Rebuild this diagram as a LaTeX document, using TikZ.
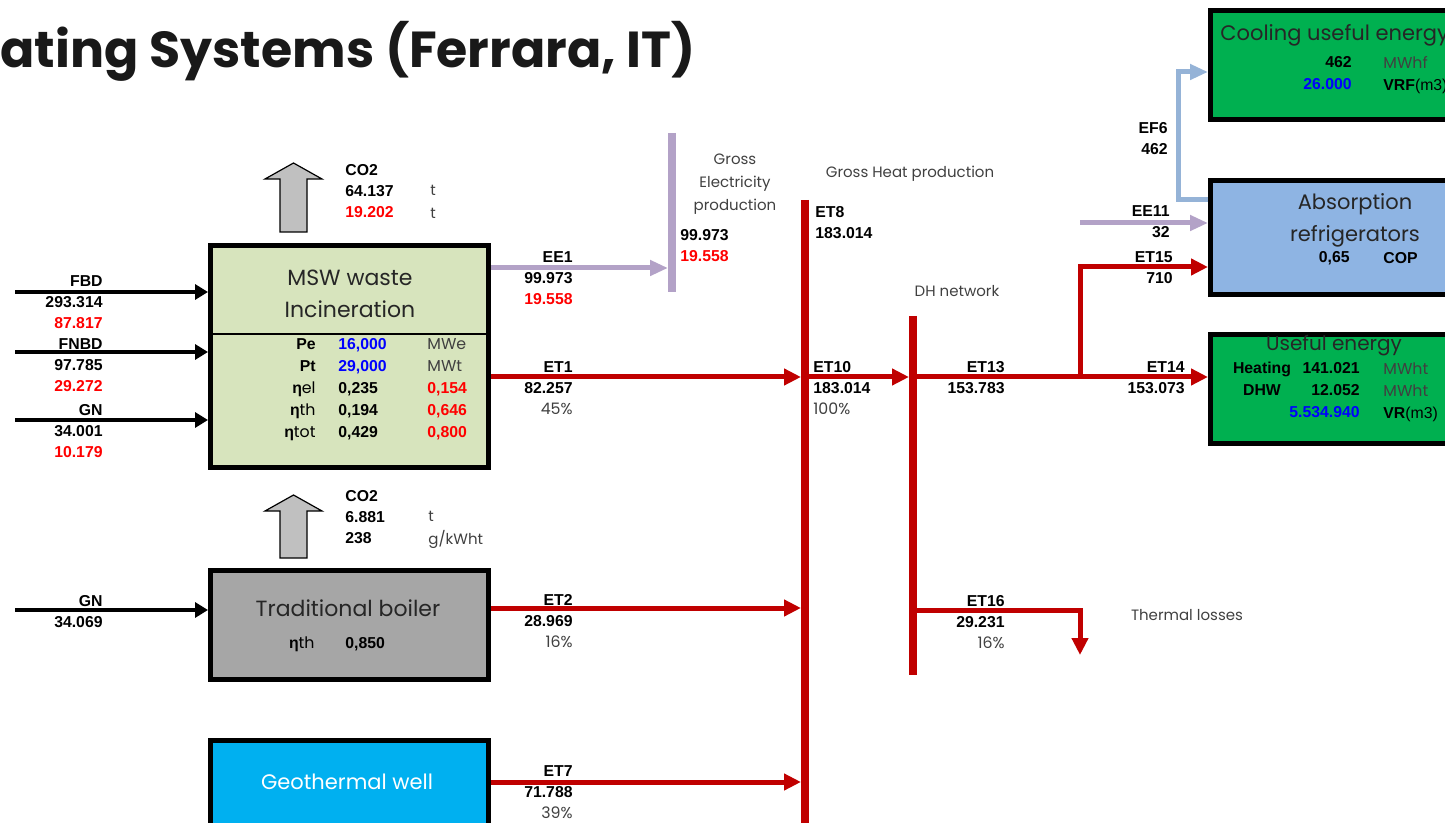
\documentclass[tikz,border=0pt]{standalone}
\usepackage{fontspec}
\setmainfont{Poppins}
\newfontfamily\numfont{Liberation Sans}
\usetikzlibrary{arrows.meta,positioning}

\definecolor{mswgreen}{HTML}{D7E4BD}
\definecolor{boilergray}{HTML}{A6A6A6}
\definecolor{geoblue}{HTML}{00B0F0}
\definecolor{usegreen}{HTML}{00B050}
\definecolor{absblue}{HTML}{8EB4E3}
\definecolor{heatred}{HTML}{C00000}
\definecolor{elecviolet}{HTML}{B3A2C7}
\definecolor{coolblue}{HTML}{95B3D7}
\definecolor{valblue}{HTML}{0000FF}
\definecolor{valred}{HTML}{FF0000}
\definecolor{co2gray}{HTML}{C0C0C0}
\definecolor{textgray}{HTML}{404040}

\tikzset{
  unitbox/.style={draw=black, line width=2.5pt, inner sep=0pt, anchor=north west},
  lbl/.style={font=\numfont\bfseries\fontsize{7.9}{10.5}\selectfont, inner sep=0pt},
  tbl/.style={font=\numfont\bfseries\fontsize{7.9}{11}\selectfont, inner sep=0pt},
  note/.style={font=\fontsize{7.5}{11.5}\selectfont, inner sep=0pt, align=center, text=textgray},
  boxtitle/.style={font=\fontsize{10.5}{16}\selectfont, inner sep=0pt, align=center, text=black!85},
  fuelflow/.style={line width=2pt, -{Triangle[length=6.5pt,width=7.5pt]}},
  heatflow/.style={heatred, line width=2.5pt, -{Triangle[length=8.5pt,width=8pt]}},
  elecflow/.style={elecviolet, line width=2.5pt, -{Triangle[length=9pt,width=7.5pt]}},
  coolflow/.style={coolblue, line width=2.5pt, -{Triangle[length=9pt,width=7.5pt]}},
  heatbar/.style={heatred, line width=4pt},
  elecbar/.style={elecviolet, line width=4pt},
  co2arrow/.style={draw=black, fill=co2gray, line width=0.6pt},
}

\begin{document}
\begin{tikzpicture}[x=0.5pt, y=-0.5pt]
  \useasboundingbox (0,0) rectangle (1445,823);
  \clip (0,0) rectangle (1445,823);

  % title, cut at the left edge
  \node (title) [anchor=base west, inner sep=0pt, font=\bfseries\fontsize{25.3}{26}\selectfont, text=black!90] at (0,68) {ating Systems (Ferrara, IT)};

  % plant boxes
  \node (msw) [unitbox, fill=mswgreen, minimum width=139pt, minimum height=111pt] at (208,243) {};
  \node (boiler) [unitbox, fill=boilergray, minimum width=139pt, minimum height=54.5pt] at (208,568) {};
  \node (geo) [unitbox, fill=geoblue, minimum width=139pt, minimum height=60pt] at (208,738) {};
  \node (cool) [unitbox, fill=usegreen, minimum width=150pt, minimum height=54.5pt] at (1208,8) {};
  \node (absorb) [unitbox, fill=absblue, minimum width=150pt, minimum height=57pt] at (1208,178) {};
  \node (useful) [unitbox, fill=usegreen, minimum width=150pt, minimum height=54.5pt] at (1208,332) {};
  \coordinate (yDiv) at (0,334);
  \draw[line width=1.2pt] (msw.west |- yDiv) -- (msw.east |- yDiv);

  % CO2 outlets
  \foreach \ytip/\ybot in {163/232, 495/558}
    \draw[co2arrow] (293.5,\ytip) -- (322,\ytip+16) -- (307,\ytip+16) -- (307,\ybot)
      -- (280,\ybot) -- (280,\ytip+16) -- (265,\ytip+16) -- cycle;

  % bus bars
  \coordinate (elecTop) at (672,133);
  \coordinate (elecBot) at (672,292);
  \coordinate (heatTop) at (805,200);
  \coordinate (heatBot) at (805,830);
  \coordinate (dhTop) at (913,316);
  \coordinate (dhBot) at (913,675);
  \coordinate (elecIn) at (668,0);
  \coordinate (heatIn) at (801,0);
  \coordinate (dhIn) at (909,0);
  \draw[elecbar] (elecTop) -- (elecBot);
  \draw[heatbar] (heatTop) -- (heatBot);
  \draw[heatbar] (dhTop) -- (dhBot);

  % fuel inputs
  \coordinate (inFBD) at (15,292);
  \coordinate (inFNBD) at (15,352);
  \coordinate (inGN) at (15,420);
  \coordinate (inGNb) at (15,610);
  \foreach \src in {inFBD, inFNBD, inGN}
    \draw[fuelflow] (\src) -- (\src -| msw.west);
  \draw[fuelflow] (inGNb) -- (inGNb -| boiler.west);

  % energy flows
  \coordinate (yEE1) at (0,268);
  \coordinate (yET1) at (0,377);
  \coordinate (yET2) at (0,608);
  \coordinate (yET7) at (0,782);
  \coordinate (yET15) at (0,267);
  \coordinate (yET16) at (0,610);
  \coordinate (yEE11) at (0,223);
  \coordinate (yEF6) at (0,200);
  \coordinate (split) at (1080,377);
  \coordinate (lossEnd) at (1080,655);
  \coordinate (ee11) at (1080,223);
  \coordinate (efBend) at (1178,72);
  \draw[elecflow] (msw.east |- yEE1) -- (elecIn |- yEE1);
  \draw[heatflow] (msw.east |- yET1) -- (heatIn |- yET1);
  \draw[heatflow] (boiler.east |- yET2) -- (heatIn |- yET2);
  \draw[heatflow] (geo.east |- yET7) -- (heatIn |- yET7);
  \draw[heatflow] (heatTop |- yET1) -- (dhIn |- yET1);
  \draw[heatflow] (dhTop |- yET1) -- (useful.west |- yET1);
  \draw[heatflow] (split) |- (absorb.west |- yET15);
  \draw[heatflow] (dhTop |- yET16) -| (lossEnd);
  \draw[elecflow] (ee11) -- (absorb.west |- yEE11);
  \draw[coolflow] (absorb.west |- yEF6) -| (efBend) -- (cool.west |- efBend);

  % box texts
  \node (mswTitle) [boxtitle, font=\fontsize{11}{16}\selectfont] at (350,294) {MSW waste\\Incineration};
  \node (mswKeys) [tbl, align=right, anchor=north east] at (316,338)
    {Pe\\Pt\\η{\rmfamily\mdseries el}\\η{\rmfamily\mdseries th}\\η{\rmfamily\mdseries tot}};
  \node (mswVals) [tbl, align=left, anchor=north west] at (338,338)
    {\textcolor{valblue}{16,000}\\\textcolor{valblue}{29,000}\\0,235\\0,194\\0,429};
  \node (mswUnits) [tbl, align=left, anchor=north west] at (427,338)
    {{\rmfamily\mdseries\color{textgray}MWe}\\{\rmfamily\mdseries\color{textgray}MWt}\\\textcolor{valred}{0,154}\\\textcolor{valred}{0,646}\\\textcolor{valred}{0,800}};
  \node (boilerTitle) [boxtitle, font=\fontsize{11}{16}\selectfont] at (348,608) {Traditional boiler};
  \node (boilerKey) [tbl, anchor=east] at (315,644) {η{\rmfamily\mdseries th}};
  \node (boilerVal) [tbl, anchor=west] at (345,644) {0,850};
  \node (geoTitle) [boxtitle, text=white] at (347,782) {Geothermal well};
  \node (coolTitle) [boxtitle, anchor=west] at (1220,35) {Cooling useful energy};
  \node (coolVals) [tbl, align=right, anchor=north east] at (1352,56) {462\\\textcolor{valblue}{26.000}};
  \node (coolUnits) [tbl, align=left, anchor=north west] at (1383,56)
    {{\rmfamily\mdseries\color{textgray}MWhf}\\VRF{\numfont\mdseries(m3)}};
  \node (absTitle) [boxtitle] at (1355,220) {Absorption\\refrigerators};
  \node (absVal) [tbl, anchor=east] at (1350,258) {0,65};
  \node (absUnit) [tbl, anchor=west] at (1383,258) {COP};
  \node (usefulTitle) [boxtitle, font=\fontsize{10}{14}\selectfont] at (1334,346) {Useful energy};
  \node (usefulKeys) [tbl, align=center, anchor=north] at (1262,362) {Heating\\DHW};
  \node (usefulVals) [tbl, align=right, anchor=north east] at (1360,362)
    {141.021\\12.052\\\textcolor{valblue}{5.534.940}};
  \node (usefulUnits) [tbl, align=left, anchor=north west] at (1383,362)
    {{\rmfamily\mdseries\color{textgray}MWht}\\{\rmfamily\mdseries\color{textgray}MWht}\\VR{\numfont\mdseries(m3)}};

  % CO2 data
  \node (co2Msw) [lbl, align=left, anchor=north west] at (345,164) {CO2\\64.137\\\textcolor{valred}{19.202}};
  \node (co2MswUnit) [note, align=left, anchor=north west] at (430,185) {t\\t};
  \node (co2Boiler) [lbl, align=left, anchor=north west] at (345,490) {CO2\\6.881\\238};
  \node (co2BoilerUnit) [note, align=left, anchor=north west] at (428,511) {t\\g/kWht};

  % flow labels
  \node (lblFBD) [lbl, align=right, anchor=north east] at (103,275) {FBD\\293.314\\\textcolor{valred}{87.817}};
  \node (lblFNBD) [lbl, align=right, anchor=north east] at (103,338) {FNBD\\97.785\\\textcolor{valred}{29.272}};
  \node (lblGN) [lbl, align=right, anchor=north east] at (103,404) {GN\\34.001\\\textcolor{valred}{10.179}};
  \node (lblGNb) [lbl, align=right, anchor=north east] at (103,595) {GN\\34.069};
  \node (lblEE1) [lbl, align=right, anchor=north east] at (573,251) {EE1\\99.973\\\textcolor{valred}{19.558}};
  \node (lblGross) [lbl, align=left, anchor=north west] at (680,229) {99.973\\\textcolor{valred}{19.558}};
  \node (lblET1) [lbl, align=right, anchor=north east] at (573,361) {ET1\\82.257\\{\rmfamily\mdseries\color{textgray}45\%}};
  \node (lblET8) [lbl, align=left, anchor=north west] at (815,206) {ET8\\183.014};
  \node (lblET10) [lbl, align=left, anchor=north west] at (813,361) {ET10\\183.014\\{\rmfamily\mdseries\color{textgray}100\%}};
  \node (lblET13) [lbl, align=right, anchor=north east] at (1005,361) {ET13\\153.783};
  \node (lblET14) [lbl, align=right, anchor=north east] at (1185,361) {ET14\\153.073};
  \node (lblET15) [lbl, align=right, anchor=north east] at (1173,251) {ET15\\710};
  \node (lblEE11) [lbl, align=right, anchor=north east] at (1170,205) {EE11\\32};
  \node (lblEF6) [lbl, align=right, anchor=north east] at (1168,122) {EF6\\462};
  \node (lblET16) [lbl, align=right, anchor=north east] at (1005,595) {ET16\\29.231\\{\rmfamily\mdseries\color{textgray}16\%}};
  \node (lblET2) [lbl, align=right, anchor=north east] at (573,594) {ET2\\28.969\\{\rmfamily\mdseries\color{textgray}16\%}};
  \node (lblET7) [lbl, align=right, anchor=north east] at (573,765) {ET7\\71.788\\{\rmfamily\mdseries\color{textgray}39\%}};

  % plain notes
  \node (noteElec) [note] at (735,184) {Gross\\Electricity\\production};
  \node (noteHeat) [note] at (910,174) {Gross Heat production};
  \node (noteDH) [note] at (957,291) {DH network};
  \node (noteLoss) [note] at (1187,615) {Thermal losses};
\end{tikzpicture}
\end{document}
